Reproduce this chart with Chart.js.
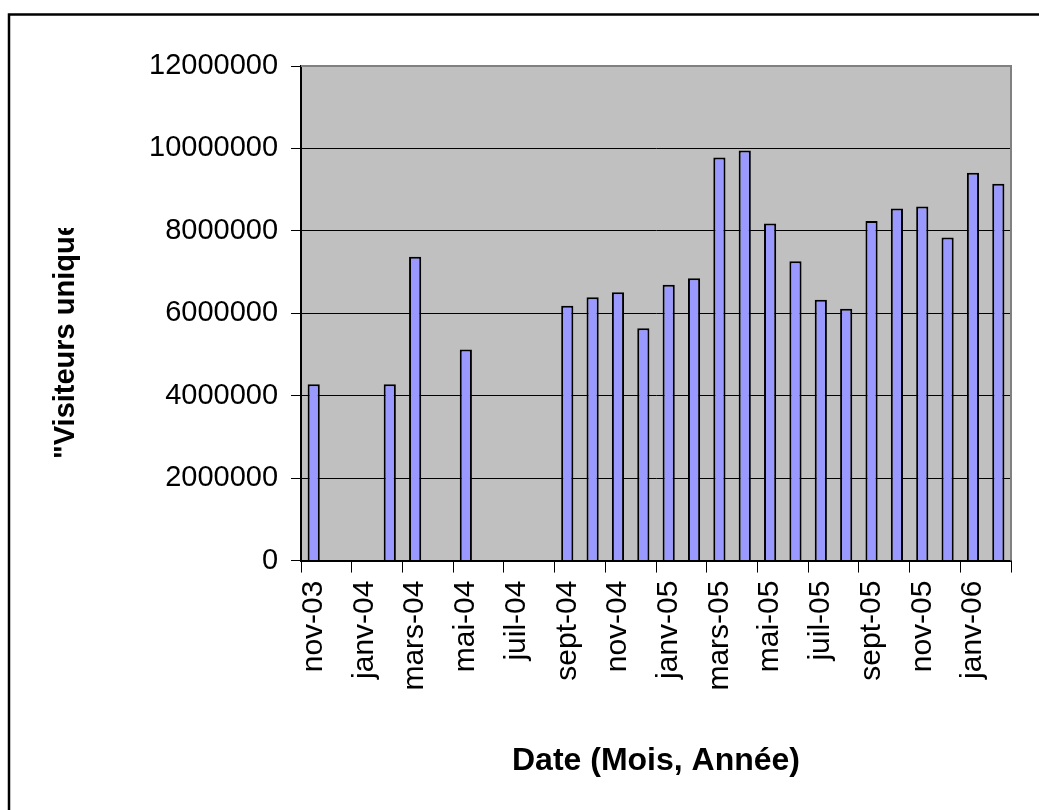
<!DOCTYPE html>
<html>
<head>
<meta charset="utf-8">
<script src="https://cdn.jsdelivr.net/npm/chart.js@4"></script>
<style>
  html, body { margin: 0; padding: 0; background: #fff; }
  canvas { display: block; }
</style>
</head>
<body>
<canvas id="chart" width="1039" height="810"></canvas>
<script>
// months, one per bar slot (only every second one is printed on the axis)
let months = ['nov-03','déc-03','janv-04','févr-04','mars-04','avr-04','mai-04','juin-04','juil-04','août-04',
  'sept-04','oct-04','nov-04','déc-04','janv-05','févr-05','mars-05','avr-05','mai-05','juin-05',
  'juil-05','août-05','sept-05','oct-05','nov-05','déc-05','janv-06','févr-06']
let visitors = [4280000,null,null,4280000,7370000,null,5120000,null,null,null,
  6180000,6390000,6510000,5640000,6690000,6850000,9780000,9950000,8180000,7260000,
  6330000,6110000,8240000,8540000,8590000,7840000,9410000,9140000]
let yMax = 12000000
let yStep = 2000000

let fontFamily = '"Liberation Sans", Arial, sans-serif'

// white page, outer frame and grey plot area
let backdrop = {
  id: 'backdrop',
  beforeDraw(chart) {
    let c = chart.ctx
    let a = chart.chartArea
    c.save()
    c.fillStyle = '#fff'
    c.fillRect(0, 0, chart.width, chart.height)
    c.strokeStyle = '#000'
    c.lineWidth = 2.5
    c.beginPath()
    c.moveTo(9, chart.height + 5)
    c.lineTo(9, 14.5)
    c.lineTo(chart.width + 5, 14.5)
    c.stroke()
    c.fillStyle = '#c0c0c0'
    c.fillRect(a.left, a.top, a.right - a.left, a.bottom - a.top)
    c.restore()
  },
  beforeDatasetsDraw(chart) {
    let c = chart.ctx
    let a = chart.chartArea
    c.save()
    c.strokeStyle = '#808080'
    c.lineWidth = 2
    c.beginPath()
    c.moveTo(a.left, a.top)
    c.lineTo(a.right, a.top)
    c.lineTo(a.right, a.bottom)
    c.stroke()
    c.restore()
  }
}

// y title, cut off at the top like the original
let yTitle = {
  id: 'yTitle',
  afterDraw(chart) {
    let c = chart.ctx
    c.save()
    c.beginPath()
    c.rect(0, 228, 140, 300)
    c.clip()
    c.translate(66, 459)
    c.rotate(-Math.PI / 2)
    c.font = 'bold 29px ' + fontFamily
    c.fillStyle = '#000'
    c.textAlign = 'left'
    c.textBaseline = 'middle'
    c.fillText('"Visiteurs uniques"', 0, 0)
    c.restore()
  }
}

let ctx = document.querySelector('#chart').getContext('2d')

let chart = new Chart(ctx, {
  type: 'bar',
  data: {
    labels: months,
    datasets: [{
      data: visitors,
      backgroundColor: '#9999ff',
      borderColor: '#000',
      borderWidth: 2,
      barPercentage: 0.48,
      categoryPercentage: 1
    }]
  },
  options: {
    responsive: false,
    animation: false,
    devicePixelRatio: 1,
    layout: {
      padding: { left: 136, top: 66, right: 28, bottom: 30 }
    },
    plugins: {
      legend: { display: false },
      tooltip: { enabled: false }
    },
    scales: {
      x: {
        offset: true,
        afterFit: s => { s.paddingRight = 0 },
        grid: {
          offset: true,
          drawOnChartArea: false,
          drawTicks: true,
          tickLength: 12,
          color: c => ((c.index ?? 0) % 2 === 0 ? '#000' : 'rgba(0,0,0,0)')
        },
        border: { color: '#000', width: 2 },
        ticks: {
          autoSkip: false,
          minRotation: 90,
          maxRotation: 90,
          padding: 8,
          color: '#000',
          font: { family: fontFamily, size: 30 },
          callback: (v, i) => (i % 2 === 0 ? months[i] : '')
        },
        title: {
          display: true,
          text: 'Date (Mois, Année)',
          color: '#000',
          font: { family: fontFamily, size: 32, weight: 'bold' },
          padding: { top: 43, bottom: 0 }
        }
      },
      y: {
        min: 0,
        max: yMax,
        grid: {
          color: c => (c.tick && c.tick.value === yMax ? 'rgba(0,0,0,0)' : '#000'),
          tickColor: '#000',
          tickLength: 10,
          lineWidth: 1
        },
        border: { color: '#000', width: 2 },
        ticks: {
          stepSize: yStep,
          padding: 13,
          color: '#000',
          font: { family: fontFamily, size: 29 },
          callback: v => String(v)
        }
      }
    }
  },
  plugins: [backdrop, yTitle]
})
</script>
</body>
</html>
